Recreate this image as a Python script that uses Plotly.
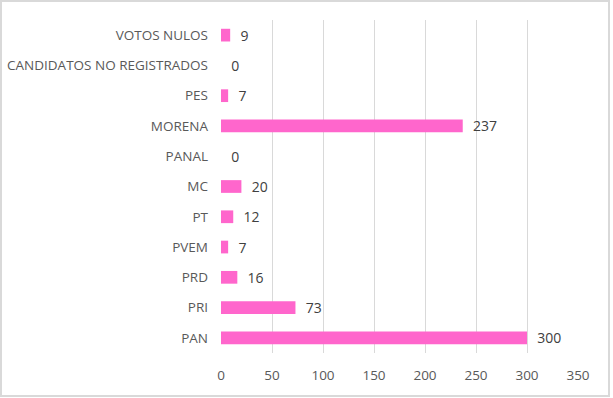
import plotly.graph_objects as go

categories = ["PAN", "PRI", "PRD", "PVEM", "PT", "MC", "PANAL", "MORENA", "PES",
              "CANDIDATOS NO REGISTRADOS", "VOTOS NULOS"]
votes = [300, 73, 16, 7, 12, 20, 0, 237, 7, 0, 9]
x_ticks = [0, 50, 100, 150, 200, 250, 300, 350]

W, H = 613, 398
ml, mr, mt, mb = 221, 35, 20, 45
pw, ph = W - ml - mr, H - mt - mb
FONT = "Open Sans, Liberation Sans, sans-serif"

fig = go.Figure(go.Bar(
    y=categories, x=votes, orientation="h",
    marker=dict(color="#FF66CC", line=dict(width=0)),
    text=[f"  {v}" for v in votes], textposition="outside",
    constraintext="none",
    textfont=dict(family=FONT, size=14, color="#404040"),
    cliponaxis=False,
))

fig.update_layout(
    width=W, height=H,
    margin=dict(l=ml, r=mr, t=mt, b=mb, pad=0, autoexpand=False),
    paper_bgcolor="white", plot_bgcolor="white",
    bargap=0.58,
    showlegend=False,
    font=dict(family=FONT, size=13.5, color="#595959"),
    xaxis=dict(range=[0, 350], tickvals=x_ticks, showgrid=True, gridcolor="#d9d9d9",
               gridwidth=1, zeroline=False, showline=False, ticks="", automargin=False,
               ticklabelstandoff=12,
               tickfont=dict(size=13.5, color="#595959"), fixedrange=True),
    yaxis=dict(categoryorder="array", categoryarray=categories, showgrid=False,
               zeroline=False, showline=False, ticks="", automargin=False,
               ticklabelstandoff=12,
               tickfont=dict(size=13.5, color="#595959"), fixedrange=True),
    shapes=[dict(type="rect", xref="paper", yref="paper",
                 x0=-(ml - 1) / pw, x1=1 + (mr - 4) / pw,
                 y0=-(mb - 2) / ph, y1=1 + (mt - 1) / ph,
                 line=dict(color="#d9d9d9", width=2), fillcolor="rgba(0,0,0,0)",
                 layer="below")],
)

fig.write_html("out.html", config={"displayModeBar": False},
               post_script="document.body.style.margin='0';document.body.style.overflow='hidden';")
